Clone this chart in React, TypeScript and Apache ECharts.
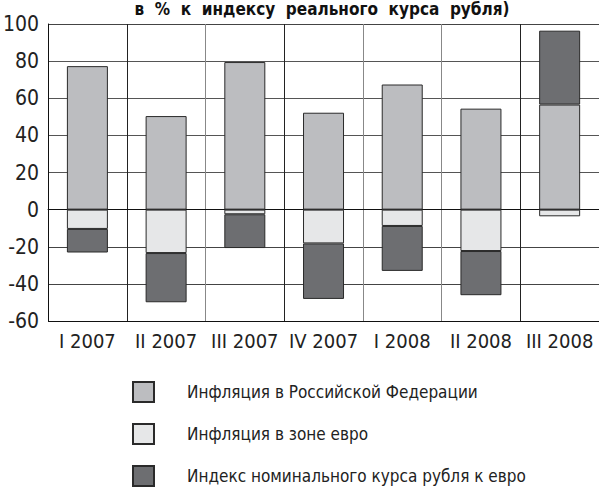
import React, { useEffect, useRef } from "react";
import * as echarts from "echarts";

const categories = ["I 2007", "II 2007", "III 2007", "IV 2007", "I 2008", "II 2008", "III 2008"];
const inflationRF = [77.3, 50.4, 79.5, 52.2, 67.4, 54.4, 56.6];
const inflationEuro = [-10.4, -23.4, -2.5, -18.2, -8.8, -22.3, -3.6];
const nominalIndex = [-12.7, -26.5, -18.2, -29.9, -24.2, -23.8, 39.8];
const yTicks = { min: -60, max: 100, interval: 20 };
const seriesNames = [
  "Инфляция в Российской Федерации",
  "Инфляция в зоне евро",
  "Индекс номинального курса рубля к евро",
];
const titleText = "в  %  к  индексу  реального  курса  рубля)";

const FONT = "'DejaVu Sans Condensed', 'Liberation Sans Narrow', 'DejaVu Sans', sans-serif";

export default function App() {
  const ref = useRef<HTMLDivElement>(null);
  useEffect(() => {
    if (!ref.current) return;
    const chart = echarts.init(ref.current, undefined, { renderer: "svg" });
    const mk = (name: string, data: number[], color: string) => ({
      name,
      type: "bar",
      stack: "total",
      data,
      barWidth: 41,
      itemStyle: { color, borderColor: "#2a2a2a", borderWidth: 1 },
    });
    chart.setOption({
      animation: false,
      backgroundColor: "#fff",
      graphic: [
        {
          type: "text",
          x: 322,
          y: 9,
          style: {
            text: titleText,
            textAlign: "center",
            textVerticalAlign: "middle",
            font: `condensed bold 17px ${FONT}`,
            fill: "#111",
          },
        },
      ],
      grid: { left: 46, top: 24, right: -10, bottom: 166, containLabel: false },
      legend: {
        orient: "vertical",
        left: 132,
        top: 381,
        height: 140,
        width: 420,
        padding: 0,
        itemWidth: 21,
        itemHeight: 20,
        itemGap: 20,
        icon: "rect",
        selectedMode: false,
        textStyle: {
          fontStyle: "condensed",
          fontFamily: FONT,
          fontSize: 17,
          color: "#222",
          padding: [0, 0, 0, 28],
        },
        data: seriesNames,
      },
      xAxis: {
        type: "category",
        data: categories,
        axisLine: { show: true, lineStyle: { color: "#111", width: 1 } },
        axisTick: { show: false },
        axisLabel: {
          interval: 0,
          fontStyle: "condensed",
          fontFamily: FONT,
          fontSize: 20,
          color: "#222",
          margin: 10,
        },
        splitLine: {
          show: true,
          lineStyle: { color: ["#111", "#222", "#888", "#222", "#888", "#888", "#222", "#888"], width: 1 },
        },
      },
      yAxis: {
        type: "value",
        min: yTicks.min,
        max: yTicks.max,
        interval: yTicks.interval,
        axisLine: { show: true, onZero: false, lineStyle: { color: "#111", width: 1 } },
        axisTick: { show: false },
        axisLabel: {
          fontStyle: "condensed",
          fontFamily: FONT,
          fontSize: 21,
          color: "#222",
          margin: 9,
        },
        splitLine: {
          show: true,
          lineStyle: { color: ["#111", "#444", "#444", "#111", "#555", "#555", "#555", "#555", "#444"], width: 1 },
        },
      },
      series: [
        mk(seriesNames[0], inflationRF, "#bcbdc0"),
        mk(seriesNames[1], inflationEuro, "#e6e7e8"),
        mk(seriesNames[2], nominalIndex, "#6d6e71"),
      ],
    });
    return () => chart.dispose();
  }, []);
  return (
    <div
      ref={ref}
      style={{ position: "fixed", left: 0, top: 0, width: 599, height: 487, overflow: "hidden" }}
    />
  );
}
